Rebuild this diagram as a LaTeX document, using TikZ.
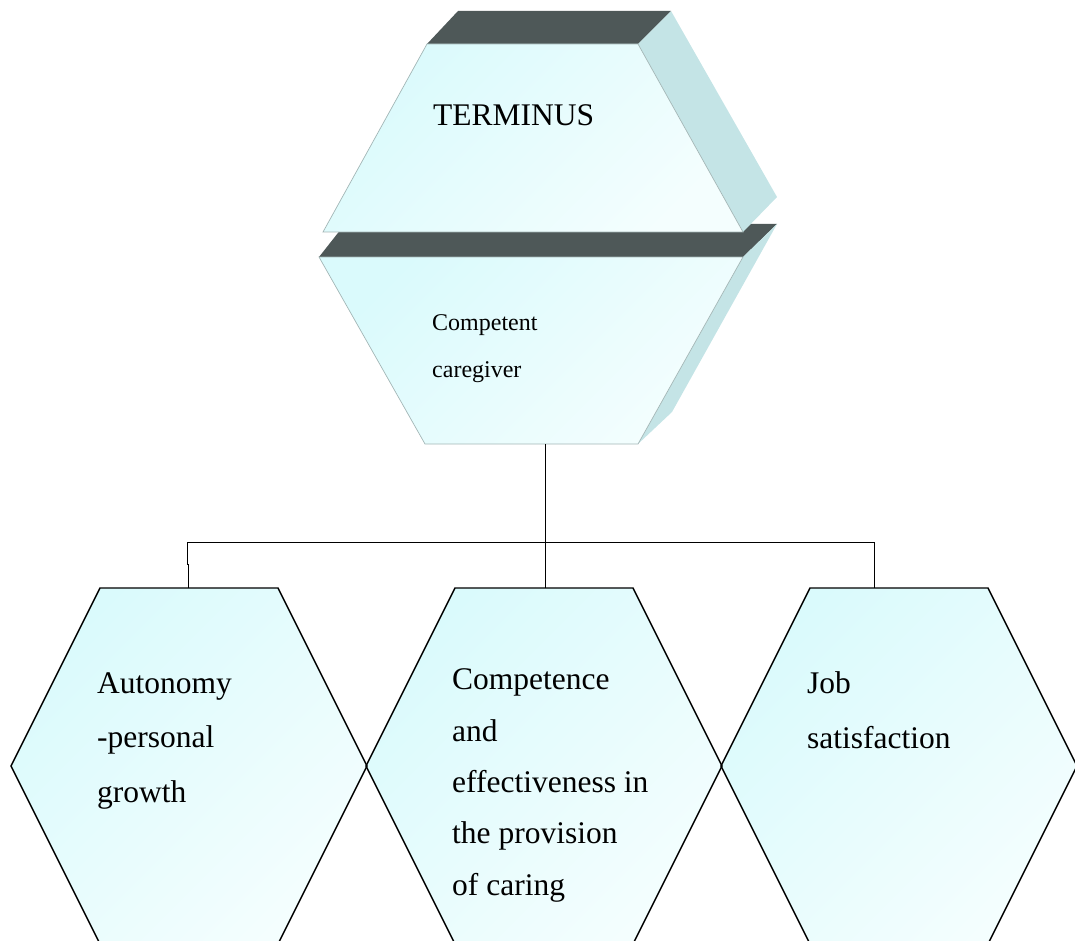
\documentclass[tikz,border=0pt]{standalone}
\usepackage{fontspec}
\setmainfont{Liberation Serif}
\definecolor{paleA}{HTML}{DAFAFC}
\definecolor{paleB}{HTML}{F4FEFE}
\definecolor{bandgrey}{HTML}{4E5858}
\definecolor{sideblue}{HTML}{C4E4E6}
\definecolor{edgegrey}{HTML}{A3B6B6}
\begin{document}
\begin{tikzpicture}[x=1pt,y=-1pt,
  paleface/.style={top color=paleA, bottom color=paleB, shading angle=45},
  blockedge/.style={draw=edgegrey, line width=0.7pt},
  hexedge/.style={draw=black, line width=1.4pt, line join=miter},
  wire/.style={draw=black, line width=1pt},
  biglbl/.style={inner sep=0pt, anchor=base west, align=left,
                 font=\fontsize{31.5}{54.5}\selectfont},
]
\useasboundingbox (0,0) rectangle (1075,941);

% lower block: "Competent caregiver"
\fill[bandgrey] (345,224) -- (777,224) -- (743,257) -- (319,257) -- cycle;
\fill[sideblue] (743,257) -- (777,224) -- (672,412) -- (638,444) -- cycle;
\path[paleface, blockedge] (319,257) -- (743,257) -- (638,444) -- (425,444) -- cycle;
% multi-line nodes are placed by the baseline of their last line
\node[inner sep=0pt, anchor=base west, align=left,
      font=\fontsize{24}{47}\selectfont] (cg) at (432,377) {Competent\\caregiver};

% upper block: "TERMINUS"
\fill[bandgrey] (458,11) -- (671,11) -- (638,44) -- (427,44) -- cycle;
\fill[sideblue] (638,44) -- (671,11) -- (777,197) -- (743,232) -- cycle;
\path[paleface, blockedge] (427,44) -- (638,44) -- (743,232) -- (323,232) -- cycle;
\node[biglbl] (term) at (433,126) {TERMINUS};

% connector tree
\coordinate (cgB) at (545,444);
\coordinate (hub) at (545,542);
\coordinate (jL) at (187,542);
\coordinate (jR) at (874,542);
\coordinate (kinkA) at (187,564);
\coordinate (kinkB) at (188,564);
\coordinate (hLtop) at (188,588);
\coordinate (hMtop) at (545,588);
\coordinate (hRtop) at (874,588);
\draw[wire] (cgB) -- (hub);
\draw[wire] (hub) -- (hMtop);
\draw[wire] (hub) -- (jL) -- (kinkA) -- (kinkB) -- (hLtop);
\draw[wire] (hub) -- (jR) -- (hRtop);

% hexagons: fills first, outlines afterwards
\foreach \cx in {189,544,899} {
  \path[paleface] (\cx-89,588) -- (\cx+89,588) -- (\cx+178,766)
        -- (\cx+89,944) -- (\cx-89,944) -- (\cx-178,766) -- cycle;
}
\foreach \cx in {189,544,899} {
  \path[hexedge] (\cx-89,588) -- (\cx+89,588) -- (\cx+178,766)
        -- (\cx+89,944) -- (\cx-89,944) -- (\cx-178,766) -- cycle;
}

\node[biglbl] (auto) at (97,802) {Autonomy\\-personal\\growth};
\node[biglbl, font=\fontsize{31.5}{51.3}\selectfont] (comp) at (452,895)
  {Competence\\and\\effectiveness in\\the provision\\of caring};
\node[biglbl, font=\fontsize{31.5}{55}\selectfont] (job) at (807,748) {Job\\satisfaction};
\end{tikzpicture}
\end{document}
